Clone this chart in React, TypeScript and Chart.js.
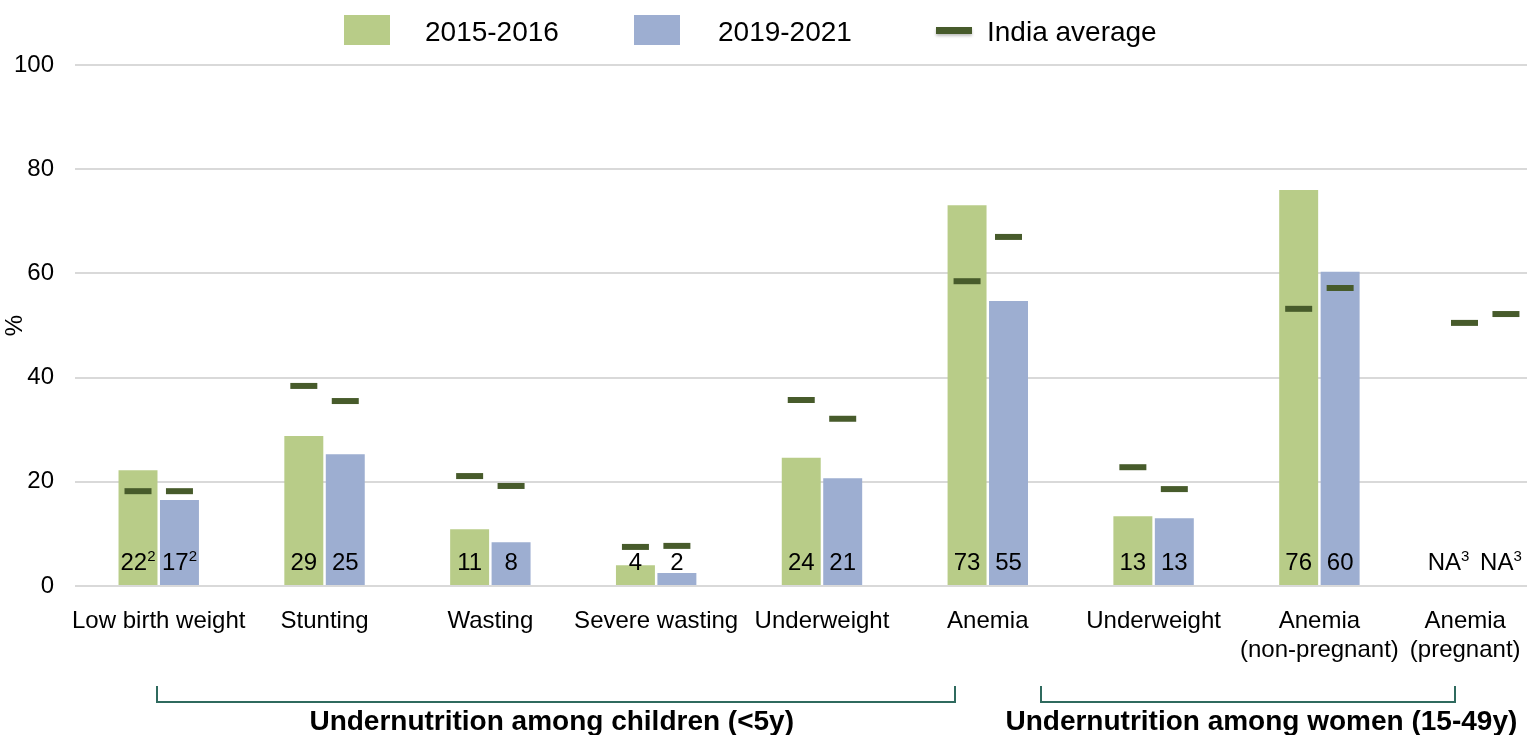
import React, { useEffect, useRef } from 'react';
import { Chart, registerables } from 'chart.js';

Chart.register(...registerables);

// ---------- data ----------
const categories: (string | string[])[] = [
  'Low birth weight',
  'Stunting',
  'Wasting',
  'Severe wasting',
  'Underweight',
  'Anemia',
  'Underweight',
  ['Anemia', '(non-pregnant)'],
  ['Anemia', '(pregnant)'],
];

const series2015: (number | null)[] = [22.2, 28.8, 10.9, 4.0, 24.6, 73.1, 13.4, 76.0, null];
const series2021: (number | null)[] = [16.5, 25.3, 8.4, 2.5, 20.7, 54.7, 13.0, 60.3, null];

const indiaAvg2015: number[] = [18.2, 38.4, 21.1, 7.5, 35.7, 58.5, 22.8, 53.2, 50.5];
const indiaAvg2021: number[] = [18.2, 35.5, 19.2, 7.7, 32.1, 67.0, 18.6, 57.2, 52.2];

const labels2015: string[] = ['22', '29', '11', '4', '24', '73', '13', '76', 'NA'];
const labels2021: string[] = ['17', '25', '8', '2', '21', '55', '13', '60', 'NA'];
const notes2015: string[] = ['2', '', '', '', '', '', '', '', '3'];
const notes2021: string[] = ['2', '', '', '', '', '', '', '', '3'];

const yTicks = [0, 20, 40, 60, 80, 100];

const groups = [
  { label: 'Undernutrition among children (<5y)', from: -0.01, to: 4.8, center: 2.37 },
  { label: 'Undernutrition among women (15-49y)', from: 5.32, to: 7.82, center: 6.65 },
];

// ---------- styles ----------
const GREEN = '#b8cc88';
const BLUE = '#9daed1';
const DARK = '#475b2b';
const TEAL = '#2f6a5e';
const FONT = "'Liberation Sans', Arial, Helvetica, sans-serif";
const MARK_OFFSET = 0.125;
// the last category label is pulled left (as in the original) with trailing padding
const LAST_LABEL_PAD = '\u00a0\u00a0\u00a0\u00a0\u00a0\u00a0';

const overlayPlugin = {
  id: 'overlay',
  afterDatasetsDraw(chart: any) {
    const ctx: CanvasRenderingContext2D = chart.ctx;
    const xs = chart.scales.x;
    const ys = chart.scales.y;
    ctx.save();
    ctx.fillStyle = '#000';
    ctx.textBaseline = 'alphabetic';
    const baseY = ys.getPixelForValue(0) - 16;
    [0, 1].forEach((d) => {
      const meta = chart.getDatasetMeta(d);
      const labels = d === 0 ? labels2015 : labels2021;
      const notes = d === 0 ? notes2015 : notes2021;
      labels.forEach((t, i) => {
        const el = meta.data[i];
        let px = el && Number.isFinite(el.x)
          ? el.x
          : xs.getPixelForValue(i + (d === 0 ? -MARK_OFFSET : MARK_OFFSET));
        if (t === 'NA') px -= d === 0 ? 16 : 5;
        ctx.font = `24px ${FONT}`;
        const w1 = ctx.measureText(t).width;
        ctx.font = `15px ${FONT}`;
        const w2 = notes[i] ? ctx.measureText(notes[i]).width : 0;
        const start = px - (w1 + w2) / 2;
        ctx.font = `24px ${FONT}`;
        ctx.textAlign = 'left';
        ctx.fillText(t, start, baseY);
        if (notes[i]) {
          ctx.font = `15px ${FONT}`;
          ctx.fillText(notes[i], start + w1, baseY - 9);
        }
      });
    });
    ctx.restore();
  },
  afterDraw(chart: any) {
    const ctx: CanvasRenderingContext2D = chart.ctx;
    const xs = chart.scales.x;
    ctx.save();
    // legend
    const ds = chart.data.datasets;
    ctx.font = `28px ${FONT}`;
    ctx.textBaseline = 'alphabetic';
    ctx.textAlign = 'left';
    ctx.fillStyle = ds[0].backgroundColor;
    ctx.fillRect(344, 15, 46, 30);
    ctx.fillStyle = '#000';
    ctx.fillText(ds[0].label, 425, 41);
    ctx.fillStyle = ds[1].backgroundColor;
    ctx.fillRect(634, 15, 46, 30);
    ctx.fillStyle = '#000';
    ctx.fillText(ds[1].label, 718, 41);
    ctx.fillStyle = ds[2].borderColor;
    ctx.shadowColor = 'rgba(0,0,0,0.25)';
    ctx.shadowBlur = 3;
    ctx.shadowOffsetY = 2;
    ctx.fillRect(936, 27, 36, 7);
    ctx.shadowColor = 'transparent';
    ctx.shadowBlur = 0;
    ctx.shadowOffsetY = 0;
    ctx.fillStyle = '#000';
    ctx.fillText(ds[2].label, 987, 41);

    // brackets + group labels
    ctx.strokeStyle = TEAL;
    ctx.lineWidth = 2;
    groups.forEach((g) => {
      const x1 = Math.round(xs.getPixelForValue(g.from));
      const x2 = Math.round(xs.getPixelForValue(g.to));
      ctx.beginPath();
      ctx.moveTo(x1, 686);
      ctx.lineTo(x1, 702);
      ctx.lineTo(x2, 702);
      ctx.lineTo(x2, 686);
      ctx.stroke();
      ctx.font = `bold 28px ${FONT}`;
      ctx.textAlign = 'center';
      ctx.fillStyle = '#000';
      ctx.fillText(g.label, xs.getPixelForValue(g.center), 730);
    });
    ctx.restore();
  },
};

export default function App() {
  const ref = useRef<HTMLCanvasElement>(null);

  useEffect(() => {
    if (!ref.current) return;
    Chart.defaults.font.family = FONT;
    const chart = new Chart(ref.current, {
      type: 'bar',
      data: {
        datasets: [
          {
            type: 'bar',
            label: '2015-2016',
            data: categories.map((_, i) => ({ x: i, y: series2015[i] })) as any,
            backgroundColor: GREEN,
            borderWidth: 0,
            categoryPercentage: 0.5,
            barPercentage: 0.94,
            order: 2,
          },
          {
            type: 'bar',
            label: '2019-2021',
            data: categories.map((_, i) => ({ x: i, y: series2021[i] })) as any,
            backgroundColor: BLUE,
            borderWidth: 0,
            categoryPercentage: 0.5,
            barPercentage: 0.94,
            order: 2,
          },
          {
            type: 'scatter',
            label: 'India average',
            data: categories.map((_, i) => ({ x: i - MARK_OFFSET, y: indiaAvg2015[i] })),
            pointStyle: 'line',
            pointRadius: 13.5,
            pointBorderWidth: 6,
            borderColor: DARK,
            backgroundColor: DARK,
            order: 1,
          } as any,
          {
            type: 'scatter',
            label: 'India average (2019-2021)',
            data: categories.map((_, i) => ({ x: i + MARK_OFFSET, y: indiaAvg2021[i] })),
            pointStyle: 'line',
            pointRadius: 13.5,
            pointBorderWidth: 6,
            borderColor: DARK,
            backgroundColor: DARK,
            order: 1,
          } as any,
        ],
      },
      options: {
        animation: false,
        responsive: true,
        maintainAspectRatio: false,
        events: [],
        layout: { autoPadding: false, padding: { top: 65, right: 12, bottom: 0, left: 0 } },
        plugins: {
          legend: { display: false },
          tooltip: { enabled: false },
        },
        scales: {
          x: {
            type: 'linear',
            offset: false,
            min: -0.505,
            max: 8.252,
            grid: { display: false, offset: false },
            border: { display: false },
            afterBuildTicks: (axis: any) => {
              axis.ticks = categories.map((_, i) => ({ value: i }));
            },
            afterFit: (axis: any) => {
              axis.height = 149;
              axis.paddingLeft = 0;
              axis.paddingRight = 0;
            },
            ticks: {
              autoSkip: false,
              maxRotation: 0,
              minRotation: 0,
              padding: 13,
              color: '#000',
              font: { size: 24 },
              callback: (v: any) => {
                const i = Math.round(Number(v));
                const lab = categories[i];
                if (i === categories.length - 1) {
                  return (Array.isArray(lab) ? lab : [lab]).map((s) => s + LAST_LABEL_PAD);
                }
                return lab as any;
              },
            },
          } as any,
          y: {
            min: 0,
            max: 100,
            afterBuildTicks: (axis: any) => {
              axis.ticks = yTicks.map((v) => ({ value: v }));
            },
            afterFit: (axis: any) => {
              axis.width = 75;
            },
            ticks: { padding: 21, color: '#000', font: { size: 24 } },
            grid: { color: '#d9d9d9', lineWidth: 2, drawTicks: false },
            border: { display: false },
            title: {
              display: true,
              text: '%',
              color: '#000',
              font: { size: 24 },
              padding: { top: 1, bottom: 0 },
            },
          } as any,
        },
      },
      plugins: [overlayPlugin],
    });
    return () => chart.destroy();
  }, []);

  return (
    <div style={{ position: 'fixed', left: 0, top: 0, width: 1539, height: 735, background: '#fff' }}>
      <canvas ref={ref} />
    </div>
  );
}
